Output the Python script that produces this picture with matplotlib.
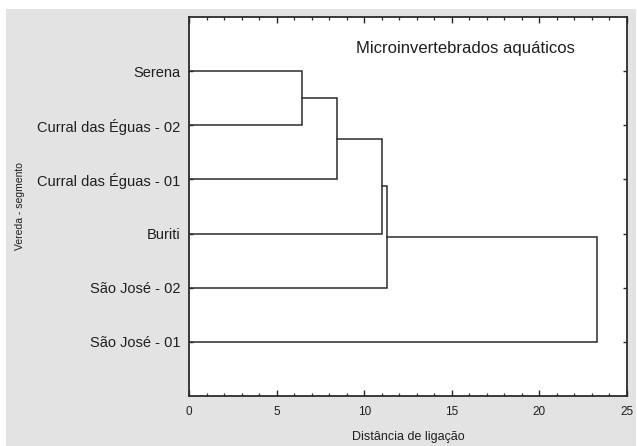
import matplotlib
matplotlib.use("Agg")
import matplotlib.pyplot as plt
from matplotlib.patches import Rectangle
from matplotlib.ticker import MultipleLocator

plt.rcParams['font.family'] = ['Liberation Sans', 'DejaVu Sans']

# folhas de cima para baixo
leaf_labels = ['Serena', 'Curral das Éguas - 02', 'Curral das Éguas - 01',
               'Buriti', 'São José - 02', 'São José - 01']
# distancia de ligacao de cada fusao (encadeada, de cima para baixo)
merge_dist = [6.47, 8.43, 11.03, 11.32, 23.29]

TITLE = 'Microinvertebrados aquáticos'
XLABEL = 'Distância de ligação'
YLABEL = 'Vereda - segmento'

LINE_C = '#2b2b2b'
TEXT_C = '#1e1e1e'
BG = '#e3e3e3'

W, H = 637, 446
fig = plt.figure(figsize=(W / 100, H / 100), dpi=100, facecolor='white')
# painel cinza atras do grafico
fig.patches.append(Rectangle((6 / W, 0), 630 / W, (H - 9) / H,
                             transform=fig.transFigure, facecolor=BG,
                             edgecolor='none', zorder=-1))

ax = fig.add_axes([189 / W, 50 / H, 438 / W, 379 / H])
ax.set_facecolor('white')

n = len(leaf_labels)
leaf_y = [n - i for i in range(n)]

# dendrograma: o grupo corrente junta-se com a folha seguinte
cx, cy = 0.0, leaf_y[0]
for i, d in enumerate(merge_dist):
    ly = leaf_y[i + 1]
    ax.plot([cx, d, d, 0], [cy, cy, ly, ly], color=LINE_C, lw=1.1,
            solid_joinstyle='miter', zorder=3)
    cx, cy = d, (cy + ly) / 2

ax.set_xlim(0, 25)
ax.set_ylim(0, n + 1)
ax.set_yticks(leaf_y)
ax.set_yticklabels(leaf_labels, fontsize=10.5, color=TEXT_C)
ax.xaxis.set_major_locator(MultipleLocator(5))
ax.xaxis.set_minor_locator(MultipleLocator(1))
for lab in ax.get_xticklabels():
    lab.set_fontsize(8.5)
    lab.set_color(TEXT_C)

ax.tick_params(axis='x', which='major', direction='in', length=4, width=1,
               top=True, pad=7, color=LINE_C)
ax.tick_params(axis='x', which='minor', direction='in', length=2.5, width=0.9,
               top=True, color=LINE_C)
ax.tick_params(axis='y', which='major', direction='in', length=3, width=1,
               right=True, pad=6, color=LINE_C)

for sp in ax.spines.values():
    sp.set_color(LINE_C)
    sp.set_linewidth(1.3)

ax.set_xlabel(XLABEL, fontsize=9, color=TEXT_C)
ax.xaxis.set_label_coords(0.5, -0.108)
ax.xaxis.label.set_va('center')
ax.set_ylabel(YLABEL, fontsize=7.5, color=TEXT_C)
ax.yaxis.set_label_coords(-0.386, 0.5)
ax.yaxis.label.set_va('center')

ax.text(0.632, 0.918, TITLE, transform=ax.transAxes, fontsize=12,
        color=TEXT_C, ha='center', va='center')

fig.savefig('out.png', dpi=100, facecolor=fig.get_facecolor())
